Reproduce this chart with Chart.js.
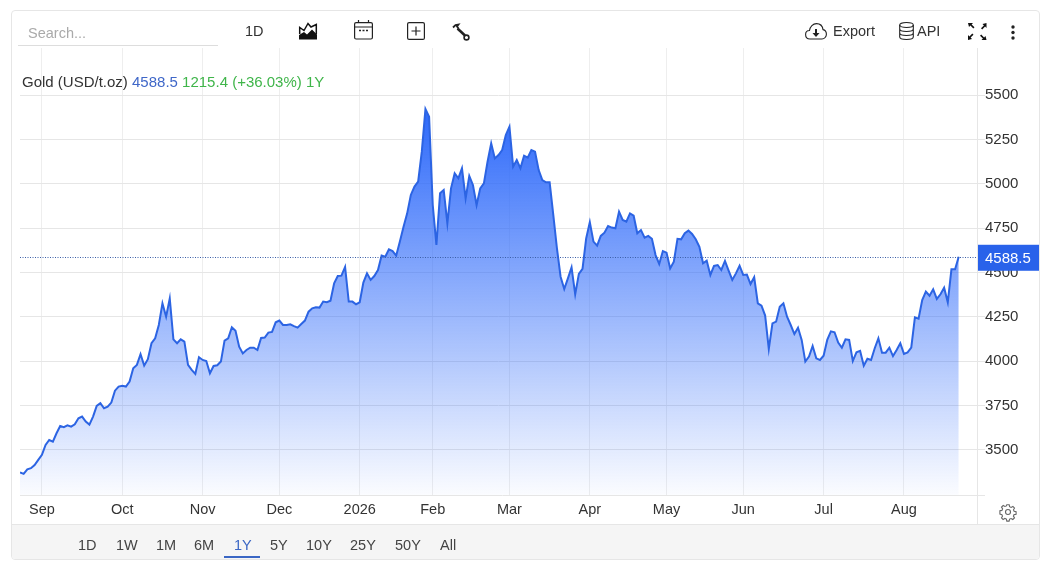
<!doctype html>
<html lang="en">
<head>
<meta charset="UTF-8">
<title>Gold (USD/t.oz)</title>
<script src="https://cdn.jsdelivr.net/npm/chart.js"></script>
<style>
    html, body { margin: 0; padding: 0; background: #fff; }
    body { width: 1046px; height: 576px; position: relative; overflow: hidden; font-family: "Liberation Sans", Arial, sans-serif; font-size: 14.5px; color: #333; }
    canvas { position: absolute; left: 0; top: 0; }
    .frame { position: absolute; left: 11px; top: 10px; width: 1027px; height: 548px; border: 1px solid #e6e6e6; border-radius: 4px; }
    .bar { position: absolute; left: 12px; top: 524px; width: 1027px; height: 34px; background: #f5f5f5; border-top: 1px solid #e6e6e6; border-radius: 0 0 4px 4px; }
    .t { position: absolute; white-space: nowrap; line-height: 18px; }
    .search { position: absolute; left: 18px; top: 24px; width: 190px; height: 21px; padding-left: 10px; border-bottom: 1px solid #ddd; color: #aaa; line-height: 19px; }
    .underline { position: absolute; left: 224px; top: 556px; width: 36px; height: 2px; background: #3a66c4; }
    svg { position: absolute; overflow: visible; }
</style>
</head>
<body>
<canvas id="chart" width="1046" height="576"></canvas>
<div class="frame"></div>
<div class="bar"></div>
<div class="search">Search...</div>
<div class="t" style="left:245px;top:22px">1D</div>
<div class="t" style="left:833px;top:22px">Export</div>
<div class="t" style="left:917px;top:22px">API</div>
<div class="t" style="left:22px;top:73px;font-size:15px"><span>Gold (USD/t.oz)</span> <span style="color:#3f67c8" id="last"></span> <span style="color:#3fb54a" id="chg"></span></div>
<div id="ranges"></div>
<div class="underline"></div>

<!-- toolbar icons -->
<svg style="left:299px;top:22px" width="18" height="18" viewBox="0 0 18 18"><path d="M0 17.500V13l5-3 3 2.500 5-5 5 5v5z" fill="#111"/><path d="M.7 12V5.500l4.300 3 4-7 3 3.500 5.300-2.500V12" fill="none" stroke="#111" stroke-width="1.500"/></svg>
<svg style="left:354px;top:20px" width="19" height="20" viewBox="0 0 19 20" fill="none" stroke="#222" stroke-width="1.2"><rect x=".6" y="2.600" width="17.800" height="16.400" rx="1.500"/><path d="M.6 7h17.800M4.500 0v3M14.500 0v3"/><path d="M5 10.500h2M8.500 10.500h2M12 10.500h2" stroke-width="1.600"/></svg>
<svg style="left:407px;top:22px" width="18" height="18" viewBox="0 0 18 18" fill="none" stroke="#222" stroke-width="1.2"><rect x=".6" y=".6" width="16.800" height="16.800" rx="1.500"/><path d="M9 4.500v9M4.500 9h9"/></svg>
<svg style="left:453px;top:24px" width="17" height="17" viewBox="0 0 17 17" fill="none" stroke="#222"><path d="M0 3.500l2.500-2.500 3-.5L4 2.500l1.500 2" stroke-width="1.800"/><path d="M4.500 4.500l7.500 7" stroke-width="2.600"/><circle cx="13.500" cy="13.500" r="2.400" stroke-width="1.600"/></svg>
<svg style="left:805px;top:23px" width="22" height="17" viewBox="0 0 22 17" fill="none" stroke="#222" stroke-width="1.1"><path d="M5 16C2 16 .6 14 .6 11.500S2.500 7.500 4.500 7.500C5 3.500 8 .6 11.500.6s6 2.500 6.500 6c2 .4 3.400 2.200 3.400 4.600S19.500 16 17 16z"/><path d="M11 6v5" stroke-width="2"/><path d="M7.500 10h7L11 14z" fill="#222" stroke="none"/></svg>
<svg style="left:899px;top:22px" width="15" height="18" viewBox="0 0 15 18" fill="none" stroke="#222" stroke-width="1.1"><ellipse cx="7.500" cy="3" rx="6.800" ry="2.500"/><path d="M.7 3v12c0 1.400 3 2.500 6.800 2.500s6.800-1.100 6.800-2.500V3M.7 7c0 1.400 3 2.500 6.800 2.500s6.800-1.100 6.800-2.500M.7 11c0 1.400 3 2.500 6.800 2.500s6.800-1.100 6.800-2.500"/></svg>
<svg style="left:968px;top:23px" width="19" height="17" viewBox="0 0 19 17" fill="#111"><path d="M0 0h5L3.600 1.400 6.500 4.300 5.300 5.500 2.400 2.600 1 4zM18.500 0v5l-1.400-1.400-2.900 2.900L13 5.300l2.900-2.900L14.500 1zM0 17v-5l1.400 1.400 2.900-2.900 1.200 1.200-2.900 2.900L4 16zM18.500 17h-5l1.400-1.400-2.900-2.900 1.200-1.200 2.900 2.900 1.400-1.400z"/></svg>
<svg style="left:1011px;top:25px" width="4" height="15" viewBox="0 0 4 15" fill="#222"><circle cx="2" cy="2" r="1.700"/><circle cx="2" cy="7.500" r="1.700"/><circle cx="2" cy="13" r="1.700"/></svg>
<svg style="left:1000px;top:504px" width="16" height="16" viewBox="0 0 16 16" fill="none" stroke="#666" stroke-width="1.1"><circle cx="8" cy="8" r="2.500"/><path d="M6.800.7h2.400l.4 2 1.500.7 1.800-1 1.600 1.700-1 1.700.6 1.500 2 .5v2.400l-2 .4-.7 1.500 1.100 1.800-1.700 1.600-1.700-1-1.500.6-.5 2H6.800l-.4-2-1.500-.7-1.800 1.100-1.600-1.700 1-1.700-.6-1.500-2-.5V6.800l2-.4.700-1.500-1.100-1.800 1.700-1.600 1.700 1 1.500-.6z"/></svg>

<script>
const monthLabels = ['Sep', 'Oct', 'Nov', 'Dec', '2026', 'Feb', 'Mar', 'Apr', 'May', 'Jun', 'Jul', 'Aug'];
// trading day index where each month starts
const monthStartIndex = [6, 28, 50, 71, 93, 113, 134, 156, 177, 198, 220, 242];
const priceTicks = [3500, 3750, 4000, 4250, 4500, 4750, 5000, 5250, 5500];
const rangeLabels = ['1D', '1W', '1M', '6M', '1Y', '5Y', '10Y', '25Y', '50Y', 'All'];
const rangeLeft = [78, 116, 156, 194, 234, 270, 306, 350, 395, 440];
const prices = [
    3373, 3365, 3391, 3397, 3415, 3444, 3472, 3528, 3556, 3547,
    3594, 3635, 3628, 3639, 3631, 3644, 3678, 3688, 3660, 3643,
    3688, 3748, 3763, 3735, 3744, 3767, 3834, 3857, 3862, 3857,
    3885, 3960, 3979, 4039, 3975, 4011, 4101, 4129, 4204, 4326,
    4251, 4354, 4123, 4101, 4123, 4110, 3979, 3951, 3928, 4022,
    4007, 4001, 3932, 3973, 3977, 3998, 4116, 4129, 4191, 4172,
    4082, 4044, 4063, 4076, 4076, 4063, 4131, 4133, 4161, 4165,
    4219, 4229, 4204, 4204, 4208, 4198, 4189, 4210, 4229, 4279,
    4298, 4304, 4302, 4336, 4332, 4341, 4439, 4480, 4482, 4531,
    4336, 4336, 4321, 4332, 4443, 4495, 4458, 4480, 4514, 4595,
    4589, 4630, 4621, 4595, 4674, 4758, 4833, 4937, 4984, 5012,
    5181, 5421, 5378, 4880, 4655, 4946, 4965, 4777, 4974, 5059,
    5031, 5087, 4918, 5044, 4993, 4880, 4974, 5002, 5124, 5228,
    5143, 5162, 5190, 5275, 5322, 5096, 5134, 5087, 5158, 5147,
    5190, 5181, 5077, 5021, 5008, 5008, 4824, 4636, 4476, 4407,
    4467, 4529, 4377, 4492, 4520, 4692, 4783, 4674, 4651, 4706,
    4724, 4762, 4753, 4749, 4843, 4796, 4786, 4833, 4820, 4721,
    4739, 4696, 4706, 4690, 4598, 4548, 4621, 4612, 4523, 4561,
    4690, 4687, 4721, 4736, 4717, 4687, 4645, 4552, 4567, 4486,
    4537, 4542, 4514, 4565, 4510, 4458, 4495, 4538, 4486, 4488,
    4435, 4473, 4326, 4313, 4257, 4069, 4213, 4223, 4307, 4326,
    4251, 4204, 4153, 4189, 4120, 3998, 4026, 4086, 4016, 4007,
    4031, 4120, 4168, 4163, 4105, 4076, 4123, 4120, 4001, 4050,
    4058, 3975, 4014, 4007, 4073, 4129, 4048, 4048, 4076, 4029,
    4063, 4101, 4041, 4050, 4076, 4247, 4240, 4345, 4392, 4369,
    4405, 4351, 4377, 4414, 4332, 4518, 4518, 4588.5
];

const last = prices[prices.length - 1];
document.getElementById('last').textContent = last.toFixed(1);
document.getElementById('chg').textContent = '1215.4 (+36.03%) 1Y';

rangeLabels.forEach((label, i) => {
    const el = document.createElement('div');
    el.className = 't';
    el.style.left = rangeLeft[i] + 'px';
    el.style.top = '536px';
    el.style.color = label === '1Y' ? '#3a66c4' : '#444';
    el.textContent = label;
    document.getElementById('ranges').appendChild(el);
});

const font = { family: '"Liberation Sans", Arial, sans-serif', size: 14.5 };

// last price line + tag, and the axis lines the scales don't extend far enough
const overlay = {
    id: 'overlay',
    afterDatasetsDraw(chart) {
        const { ctx, chartArea: a, scales } = chart;
        const y = Math.round(scales.y.getPixelForValue(last)) + 0.5;
        ctx.save();
        ctx.strokeStyle = '#3a5fa8';
        ctx.lineWidth = 1;
        ctx.setLineDash([1, 1.5]);
        ctx.beginPath();
        ctx.moveTo(a.left, y);
        ctx.lineTo(a.right, y);
        ctx.stroke();
        ctx.restore();
    },
    afterDraw(chart) {
        const { ctx, chartArea: a, scales } = chart;
        const y = scales.y.getPixelForValue(last);
        ctx.save();
        ctx.strokeStyle = '#e6e6e6';
        ctx.lineWidth = 1;
        ctx.beginPath();
        ctx.moveTo(a.left, a.bottom + 0.5);
        ctx.lineTo(a.right + 8, a.bottom + 0.5);
        ctx.moveTo(a.right + 0.5, a.top);
        ctx.lineTo(a.right + 0.5, 525);
        ctx.stroke();
        ctx.fillStyle = '#2962ea';
        ctx.fillRect(a.right + 1, y - 12, 61, 26);
        ctx.fillStyle = '#fff';
        ctx.font = '15px "Liberation Sans", Arial, sans-serif';
        ctx.textBaseline = 'middle';
        ctx.fillText(last.toFixed(1), a.right + 8, y + 2);
        ctx.restore();
    }
};

new Chart(document.getElementById('chart').getContext('2d'), {
    type: 'line',
    data: {
        datasets: [{
            data: prices.map((p, i) => ({ x: i, y: p })),
            borderColor: '#2c64e3',
            borderWidth: 2,
            pointRadius: 0,
            tension: 0,
            fill: 'start',
            backgroundColor: c => {
                const { ctx, chartArea: a, scales } = c.chart;
                if (!a) return 'transparent';
                const g = ctx.createLinearGradient(0, scales.y.getPixelForValue(Math.max(...prices)), 0, a.bottom);
                g.addColorStop(0, 'rgba(45,105,250,1)');
                g.addColorStop(1, 'rgba(45,105,250,0.02)');
                return g;
            }
        }]
    },
    plugins: [overlay],
    options: {
        responsive: false,
        animation: false,
        layout: { padding: { left: 20, top: 48, right: 0, bottom: 51 } },
        plugins: { legend: { display: false }, tooltip: { enabled: false } },
        scales: {
            x: {
                type: 'linear',
                min: 0,
                max: 262,
                afterBuildTicks: s => { s.ticks = monthStartIndex.map(value => ({ value })); },
                afterFit: s => { s.height = 30; },
                grid: { color: '#eeeeee', drawTicks: false },
                border: { display: false },
                ticks: {
                    autoSkip: false,
                    maxRotation: 0,
                    padding: 6,
                    color: '#333',
                    font,
                    callback: v => monthLabels[monthStartIndex.indexOf(v)]
                }
            },
            y: {
                position: 'right',
                min: 3246,
                max: 5765,
                afterBuildTicks: s => { s.ticks = priceTicks.map(value => ({ value })); },
                afterFit: s => { s.width = 69; },
                grid: { color: '#e6e6e6', tickLength: 8, tickColor: '#e6e6e6' },
                border: { display: false },
                ticks: { padding: 0, color: '#333', font: { ...font, size: 15 }, callback: v => String(v) }
            }
        }
    }
});
</script>
</body>
</html>
